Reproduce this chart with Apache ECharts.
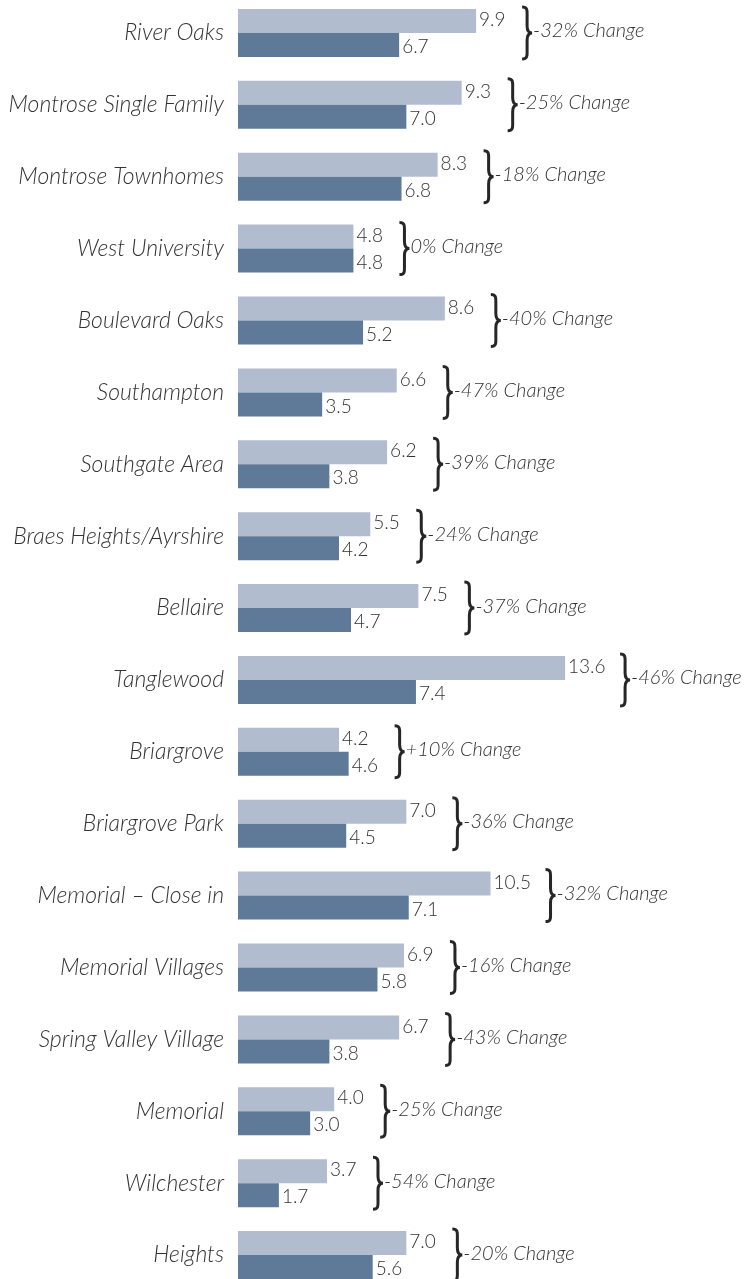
<!DOCTYPE html>
<html>
<head>
<meta charset="utf-8">
<script src="https://cdn.jsdelivr.net/npm/echarts@6/dist/echarts.min.js"></script>
<style>
  html, body { margin: 0; padding: 0; background: #fff; overflow: hidden; }
  #chart { width: 748px; height: 1300px; margin-top: -3px; }
</style>
</head>
<body>
<div id="chart"></div>
<script>
// neighbourhoods, top to bottom
const categories = [
  'River Oaks', 'Montrose Single Family', 'Montrose Townhomes', 'West University',
  'Boulevard Oaks', 'Southampton', 'Southgate Area', 'Braes Heights/Ayrshire',
  'Bellaire', 'Tanglewood', 'Briargrove', 'Briargrove Park', 'Memorial – Close in',
  'Memorial Villages', 'Spring Valley Village', 'Memorial', 'Wilchester', 'Heights'
];
// light bars (earlier) and dark bars (later)
const before = [9.9, 9.3, 8.3, 4.8, 8.6, 6.6, 6.2, 5.5, 7.5, 13.6, 4.2, 7.0, 10.5, 6.9, 6.7, 4.0, 3.7, 7.0];
const after = [6.7, 7.0, 6.8, 4.8, 5.2, 3.5, 3.8, 4.2, 4.7, 7.4, 4.6, 4.5, 7.1, 5.8, 3.8, 3.0, 1.7, 5.6];
const changes = ['-32%', '-25%', '-18%', '0%', '-40%', '-47%', '-39%', '-24%', '-37%', '-46%',
  '+10%', '-36%', '-32%', '-16%', '-43%', '-25%', '-54%', '-20%'];

const FONT = 'Lato, "DejaVu Sans", sans-serif';
const TEXT = '#333';

const braceData = categories.map((c, i) => [Math.max(before[i], after[i]), i, changes[i]]);

function renderBrace(params, api) {
  const v = api.value(0);
  const idx = api.value(1);
  const pt = api.coord([v, idx]);
  const chars = v.toFixed(1).length;
  const x = pt[0] + chars * 9 + 19;
  const cy = pt[1];
  const h = 26;
  const t = cy - h, b = cy + h;
  const path =
    'M' + x + ' ' + t +
    ' C' + (x + 6) + ' ' + t + ' ' + (x + 5) + ' ' + (t + 4) + ' ' + (x + 5) + ' ' + (t + 10) +
    ' L' + (x + 5) + ' ' + (cy - 7) +
    ' C' + (x + 5) + ' ' + (cy - 2) + ' ' + (x + 7) + ' ' + cy + ' ' + (x + 10) + ' ' + cy +
    ' C' + (x + 7) + ' ' + cy + ' ' + (x + 5) + ' ' + (cy + 2) + ' ' + (x + 5) + ' ' + (cy + 7) +
    ' L' + (x + 5) + ' ' + (b - 10) +
    ' C' + (x + 5) + ' ' + (b - 4) + ' ' + (x + 6) + ' ' + b + ' ' + x + ' ' + b;
  return {
    type: 'group',
    children: [
      {
        type: 'path',
        shape: { pathData: path },
        style: { fill: null, stroke: '#262626', lineWidth: 3 }
      },
      {
        type: 'text',
        x: x + 11,
        y: cy - 2,
        style: {
          text: api.value(2) + ' Change',
          font: 'italic 300 20px ' + FONT,
          fill: TEXT,
          verticalAlign: 'middle',
          align: 'left'
        }
      }
    ]
  };
}

const chart = echarts.init(document.getElementById('chart'));
chart.setOption({
  animation: false,
  grid: { left: 238, top: 0, width: 481, height: 1294 },
  xAxis: { type: 'value', min: 0, max: 20, show: false },
  yAxis: {
    type: 'category',
    data: categories,
    inverse: true,
    axisLine: { show: false },
    axisTick: { show: false },
    axisLabel: {
      margin: 14,
      color: TEXT,
      fontSize: 23,
      fontStyle: 'italic',
      fontWeight: 300,
      fontFamily: FONT
    }
  },
  series: [
    {
      type: 'bar',
      data: before,
      barWidth: 24,
      barGap: '0%',
      itemStyle: { color: '#b1bccf' },
      label: {
        show: true, position: 'right', distance: 3, offset: [0, -1],
        color: TEXT, fontSize: 19, fontWeight: 300, fontFamily: FONT,
        formatter: p => p.value.toFixed(1)
      }
    },
    {
      type: 'bar',
      data: after,
      barWidth: 24,
      itemStyle: { color: '#5f7a99' },
      label: {
        show: true, position: 'right', distance: 3, offset: [0, 2],
        color: TEXT, fontSize: 19, fontWeight: 300, fontFamily: FONT,
        formatter: p => p.value.toFixed(1)
      }
    },
    {
      type: 'custom',
      data: braceData,
      encode: { x: 0, y: 1 },
      renderItem: renderBrace,
      z: 5
    }
  ]
});
</script>
</body>
</html>
